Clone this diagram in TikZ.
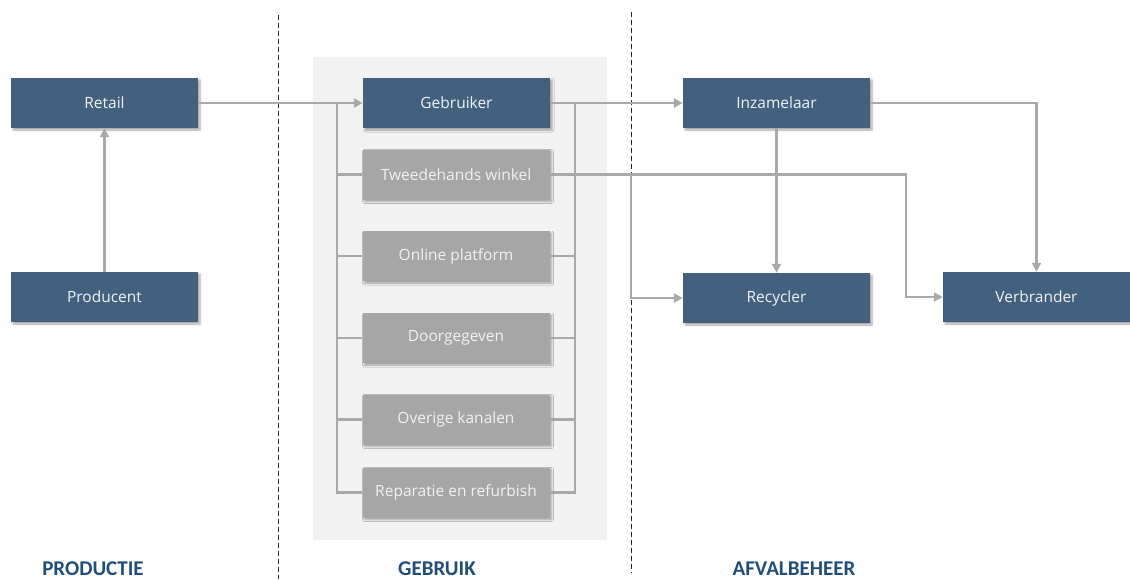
\documentclass[tikz,border=0pt]{standalone}
\usepackage{fontspec}
\setmainfont{Open Sans}
\newfontfamily\labelfont{Carlito}
\usetikzlibrary{arrows.meta,shadows.blur}
\definecolor{boxblue}{HTML}{43617F}
\definecolor{boxgray}{HTML}{A6A6A6}
\definecolor{linegray}{HTML}{A9A9A9}
\definecolor{panelgray}{HTML}{F2F2F2}
\definecolor{labelblue}{HTML}{1F4E79}
\definecolor{txtlight}{HTML}{F2F2F2}
\tikzset{
  basebox/.style={rectangle, minimum width=187pt, minimum height=50pt, inner sep=0pt,
    font=\fontsize{15.5}{18}\selectfont, text=txtlight,
    blur shadow={shadow xshift=2pt, shadow yshift=-2pt, shadow blur radius=2pt, shadow opacity=35}},
  bluebox/.style={basebox, fill=boxblue},
  graybox/.style={basebox, fill=boxgray},
  conn/.style={draw=linegray, line width=2.9pt},
  arr/.style={conn, -{Triangle[length=9pt,width=9pt]}},
  sep/.style={draw=black!85, line width=1pt, dash pattern=on 5pt off 3pt},
  phase/.style={font=\labelfont\bfseries\fontsize{21}{24}\selectfont, text=labelblue, inner sep=0pt}
}
\begin{document}
\begin{tikzpicture}[x=1pt,y=-1pt]
\useasboundingbox (0,0) rectangle (1130,579);
% panel
\fill[panelgray] (313,57) rectangle (607,540);
% separators
\draw[sep] (278,15) -- (278,579);
\draw[sep] (631,12) -- (631,573);
% nodes
\node[bluebox] (retail) at (104.5,103) {Retail};
\node[bluebox] (prod) at (104.5,297) {Producent};
\node[bluebox] (geb) at (456.5,103) {Gebruiker};
\node[graybox] (tw) at (456,174.5) {Tweedehands winkel};
\node[graybox] (onl) at (456,256) {Online platform};
\node[graybox] (door) at (456,338) {Doorgegeven};
\node[graybox] (ov) at (456,419.5) {Overige kanalen};
\node[graybox] (rep) at (456,492.5) {Reparatie en refurbish};
\node[bluebox] (inz) at (776.5,103) {Inzamelaar};
\node[bluebox] (rec) at (776.5,298) {Recycler};
\node[bluebox] (ver) at (1036.5,297) {Verbrander};
% phase labels
\node[phase] (lp) at (93,569) {PRODUCTIE};
\node[phase] (lg) at (437,569) {GEBRUIK};
\node[phase] (la) at (794,569) {AFVALBEHEER};
% bus coordinates
\coordinate (lbtop) at (337,103);
\coordinate (lbbot) at (337,492.5);
\coordinate (rbtop) at (575,103);
\coordinate (rbbot) at (575,492.5);
\coordinate (split) at (631,174.5);
\coordinate (turn) at (906,174.5);
% connectors
\draw[arr] (prod) -- (retail);
\draw[arr] (retail) -- (geb);
\draw[conn] (lbtop) -- (lbbot) -- (rep.west);
\draw[conn] (lbtop |- tw.west) -- (tw.west);
\draw[conn] (lbtop |- onl.west) -- (onl.west);
\draw[conn] (lbtop |- door.west) -- (door.west);
\draw[conn] (lbtop |- ov.west) -- (ov.west);
\draw[conn] (rbtop) -- (rbbot) -- (rep.east);
\draw[conn] (rbtop |- tw.east) -- (tw.east);
\draw[conn] (rbtop |- onl.east) -- (onl.east);
\draw[conn] (rbtop |- door.east) -- (door.east);
\draw[conn] (rbtop |- ov.east) -- (ov.east);
\draw[arr] (geb) -- (inz);
\draw[arr] (tw.east) -- (turn) |- (ver.west);
\draw[arr] (split) |- (rec.west);
\draw[arr] (inz) -- (rec);
\draw[arr] (inz.east) -| (ver.north);
\end{tikzpicture}
\end{document}
